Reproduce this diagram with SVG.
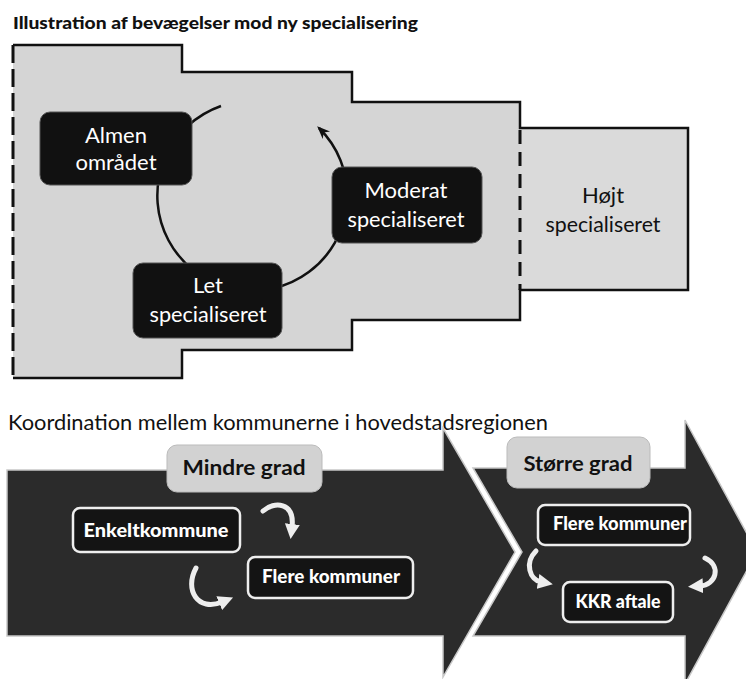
<svg xmlns="http://www.w3.org/2000/svg" width="746" height="679" viewBox="0 0 746 679">
<defs>
<style>
.ttl{font-family:Lato,"Open Sans","Liberation Sans",sans-serif;fill:#111}
.nb{fill:#111;stroke:#555;stroke-width:1}
.nt{font-family:Lato,"Open Sans","Liberation Sans",sans-serif;font-size:22px;fill:#fff;text-anchor:middle}
.bt{font-family:Lato,"Open Sans","Liberation Sans",sans-serif;font-size:18px;font-weight:900;fill:#fff;text-anchor:middle}
.sb{fill:#141414;stroke:#eee;stroke-width:2.5}
.lb{fill:#d2d2d2;stroke:#bbb;stroke-width:1}
.lt{font-family:Lato,"Open Sans","Liberation Sans",sans-serif;font-size:21px;font-weight:700;fill:#111;text-anchor:middle}
.cw{fill:none;stroke:#eee;stroke-width:5;stroke-linecap:round}
.arr{fill:#2b2b2b;stroke:#c8c8c8;stroke-width:1.5;stroke-linejoin:miter}
</style>
<marker id="ah" viewBox="0 0 10 10" refX="8" refY="5" markerWidth="13" markerHeight="13" markerUnits="userSpaceOnUse" orient="auto">
<path d="M0,1 L10,5 L0,9 L3,5 z" fill="#111"/>
</marker>
<marker id="wh" viewBox="0 0 10 10" refX="2" refY="5" markerWidth="15" markerHeight="15" markerUnits="userSpaceOnUse" orient="auto">
<path d="M0,0 L10,5 L0,10 z" fill="#eee"/>
</marker>
</defs>
<rect width="746" height="679" fill="#fff"/>

<text class="ttl" x="13" y="29" font-size="17.5" font-weight="900" textLength="405" lengthAdjust="spacingAndGlyphs">Illustration af bevægelser mod ny specialisering</text>

<g id="spec-area">
<polygon points="13,45 182,45 182,72 352,72 352,102 520,102 520,320 352,320 352,350 182,350 182,378 13,378" fill="#d5d5d5"/>
<rect x="520" y="128" width="168" height="162" fill="#dadada"/>
<polyline points="13,45 182,45 182,72 352,72 352,102 520,102 520,128 688,128 688,290 520,290 520,320 352,320 352,350 182,350 182,378 13,378" fill="none" stroke="#111" stroke-width="2.5"/>
<line x1="13" y1="45" x2="13" y2="378" stroke="#111" stroke-width="3" stroke-dasharray="18 6"/>
<line x1="520" y1="130" x2="520" y2="290" stroke="#111" stroke-width="3" stroke-dasharray="14 8"/>
</g>

<g id="connectors">
<path d="M221,106 A95,95 0 1 0 319,128" fill="none" stroke="#111" stroke-width="2.5" marker-end="url(#ah)"/>
</g>

<g id="almen">
<rect class="nb" x="40" y="112" width="152" height="73" rx="10"/>
<text class="nt" x="116" y="143">Almen</text>
<text class="nt" x="116" y="170">området</text>
</g>
<g id="let">
<rect class="nb" x="133" y="263" width="149" height="75" rx="10"/>
<text class="nt" x="208" y="293">Let</text>
<text class="nt" x="208" y="322" textLength="117" lengthAdjust="spacingAndGlyphs">specialiseret</text>
</g>
<g id="moderat">
<rect class="nb" x="332" y="167" width="150" height="76" rx="10"/>
<text class="nt" x="406" y="198">Moderat</text>
<text class="nt" x="406" y="227" textLength="117" lengthAdjust="spacingAndGlyphs">specialiseret</text>
</g>
<g id="hojt">
<text class="nt" x="603" y="203" style="fill:#111">Højt</text>
<text class="nt" x="603" y="232" style="fill:#111" textLength="115" lengthAdjust="spacingAndGlyphs">specialiseret</text>
</g>

<text class="ttl" x="8" y="430" font-size="21.5" textLength="540" lengthAdjust="spacingAndGlyphs">Koordination mellem kommunerne i hovedstadsregionen</text>

<g id="arrow-stoerre">
<polygon class="arr" points="473,468 685,468 685,420 757,552 685,684 685,636 473,636 522,552"/>
</g>
<g id="arrow-mindre">
<polygon class="arr" points="7,470 443,470 443,428 515,552 443,677 443,636 7,636"/>
</g>

<g id="label-mindre">
<rect class="lb" x="167" y="445" width="155" height="47" rx="10"/>
<text class="lt" x="244" y="475" textLength="123" lengthAdjust="spacingAndGlyphs">Mindre grad</text>
</g>
<g id="label-stoerre">
<rect class="lb" x="507" y="437" width="143" height="51" rx="10"/>
<text class="lt" x="578" y="471" textLength="109" lengthAdjust="spacingAndGlyphs">Større grad</text>
</g>

<g id="enkeltkommune">
<rect class="sb" x="73" y="508" width="167" height="44" rx="7"/>
<text class="bt" x="156" y="537" textLength="145" lengthAdjust="spacingAndGlyphs">Enkeltkommune</text>
</g>
<g id="flere-kommuner-1">
<rect class="sb" x="248" y="557" width="165" height="41" rx="7"/>
<text class="bt" x="331" y="583" textLength="138" lengthAdjust="spacingAndGlyphs">Flere kommuner</text>
</g>
<g id="flere-kommuner-2">
<rect class="sb" x="538" y="505" width="152" height="40" rx="7"/>
<text class="bt" x="620" y="530" textLength="134" lengthAdjust="spacingAndGlyphs">Flere kommuner</text>
</g>
<g id="kkr-aftale">
<rect class="sb" x="563" y="582" width="110" height="40" rx="7"/>
<text class="bt" x="618" y="608" textLength="85" lengthAdjust="spacingAndGlyphs">KKR aftale</text>
</g>

<g id="cycle-arrows">
<path class="cw" d="M263,511 C274,501 295,502 292,527" marker-end="url(#wh)"/>
<path class="cw" d="M196,568 C184,590 198,612 222,602" marker-end="url(#wh)"/>
<path class="cw" d="M536,551 C524,563 530,580 541,582" marker-end="url(#wh)"/>
<path class="cw" d="M705,558 C722,566 716,585 700,586" marker-end="url(#wh)"/>
</g>
</svg>
